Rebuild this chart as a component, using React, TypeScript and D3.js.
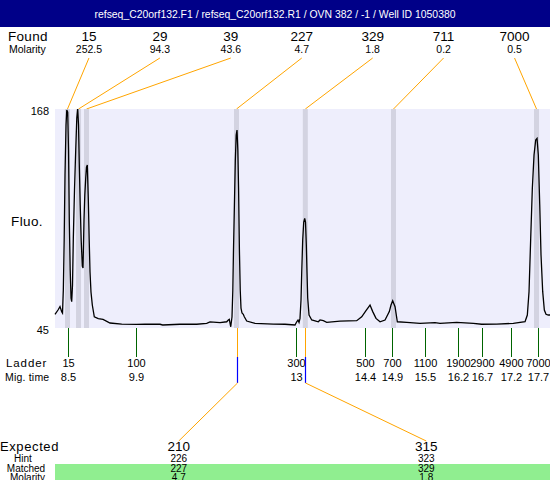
import React from "react";
import * as d3 from "d3";

const titleText = "refseq_C20orf132.F1 / refseq_C20orf132.R1 / OVN 382 / -1 / Well ID 1050380";

const foundSizes = [15, 29, 39, 227, 329, 711, 7000];
const foundMolarity = [252.5, 94.3, 43.6, 4.7, 1.8, 0.2, 0.5];
const foundTimes = [8.529, 8.745, 8.901, 11.84, 13.188, 14.916, 17.718];

const ladderSizes = [15, 100, 300, 500, 700, 1100, 1900, 2900, 4900, 7000];
const ladderTimes = [8.533, 9.877, 13.0, 14.364, 14.893, 15.539, 16.186, 16.656, 17.212, 17.741];

const expectedSizes = [210, 315];
const hintSizes = [226, 323];
const matchedSizes = [227, 329];
const matchedMolarity = [4.7, 1.8];
const matchedTimes = [11.84, 13.188];

const fluoRange = [45, 168];
const timeRange = [8.284, 17.982];

const traceTimes = [
  8.284, 8.343, 8.382, 8.415, 8.431, 8.447, 8.464, 8.48, 8.5, 8.515,
  8.533, 8.549, 8.564, 8.582, 8.598, 8.611, 8.627, 8.643, 8.666, 8.69,
  8.711, 8.729, 8.745, 8.76, 8.778, 8.797, 8.819, 8.833, 8.852, 8.868,
  8.886, 8.901, 8.917, 8.937, 8.954, 8.97, 8.989, 9.015, 9.054, 9.132,
  9.225, 9.362, 9.591, 9.885, 10.047, 10.341, 10.394, 10.733, 11.06, 11.256,
  11.321, 11.517, 11.648, 11.68, 11.699, 11.727, 11.752, 11.768, 11.781, 11.799,
  11.817, 11.834, 11.85, 11.866, 11.881, 11.897, 11.913, 11.928, 11.948, 11.973,
  11.993, 12.04, 12.203, 12.561, 12.79, 12.986, 13.02, 13.045, 13.065, 13.084,
  13.104, 13.118, 13.137, 13.157, 13.176, 13.192, 13.208, 13.221, 13.235, 13.261,
  13.314, 13.443, 13.476, 13.541, 13.607, 13.868, 14.195, 14.293, 14.377, 14.456,
  14.509, 14.573, 14.652, 14.75, 14.834, 14.867, 14.9, 14.946, 14.991, 15.175,
  15.435, 15.729, 15.827, 16.154, 16.48, 16.644, 16.938, 17.263, 17.493, 17.538,
  17.571, 17.604, 17.636, 17.669, 17.702, 17.728, 17.753, 17.781, 17.806, 17.839,
  17.871, 17.904, 17.949, 17.982,
];
const traceFluo = [
  52.7, 55.1, 57.0, 54.2, 53.4, 66.3, 94.4, 130.9, 159.0, 167.4,
  166.3, 145.0, 105.7, 77.6, 61.8, 59.8, 69.2, 95.5, 122.5, 145.0,
  162.9, 168.0, 159.0, 136.5, 114.1, 94.4, 79.8, 78.7, 105.7, 119.7,
  129.2, 135.4, 136.5, 116.9, 94.4, 76.5, 65.2, 57.9, 51.3, 50.3,
  49.8, 47.8, 47.2, 47.0, 47.2, 47.1, 46.7, 47.1, 47.1, 47.6,
  48.4, 48.0, 48.5, 49.5, 49.9, 45.7, 51.3, 66.3, 88.8, 114.1,
  139.4, 153.4, 156.2, 145.0, 122.5, 88.8, 66.3, 56.2, 53.4, 52.7,
  51.3, 48.9, 47.6, 47.2, 47.1, 46.7, 48.5, 49.5, 48.1, 50.4,
  60.7, 76.5, 94.4, 104.5, 106.6, 104.5, 91.6, 76.5, 61.8, 52.3,
  49.5, 48.5, 49.5, 49.1, 48.2, 48.9, 49.1, 51.3, 54.7, 57.9,
  54.2, 50.4, 48.5, 49.5, 54.2, 57.9, 60.3, 57.0, 48.5, 48.2,
  47.6, 48.0, 47.6, 48.2, 47.6, 47.1, 47.2, 47.6, 48.5, 52.3,
  65.4, 95.4, 123.5, 142.2, 150.6, 151.5, 142.2, 114.1, 86.0, 65.4,
  55.1, 52.7, 52.3, 52.3,
];

const FONT = "'Liberation Sans', Arial, Helvetica, sans-serif";

export default function App() {
  const W = 550;
  const H = 480;
  const left = 55;
  const right = 550;
  const top = 109;
  const bottom = 328;

  const x = d3.scaleLinear().domain(timeRange).range([left, right]);
  const y = d3.scaleLinear().domain(fluoRange).range([bottom, top]);
  const foundBand = d3
    .scaleBand<number>()
    .domain(d3.range(foundSizes.length))
    .range([53.5, 550]);
  const expBand = d3
    .scaleBand<number>()
    .domain(d3.range(expectedSizes.length))
    .range([left, right]);
  const fmtTime = d3.format(".1~f");
  const fmtMol = d3.format(".1f");

  const line = d3
    .line<number>()
    .x((_, i) => x(traceTimes[i]))
    .y((d) => y(d));

  const bandW = 5;
  const smallFs = 10;

  return (
    <svg
      width={W}
      height={H}
      style={{ position: "absolute", left: 0, top: 0, display: "block" }}
      fontFamily={FONT}
    >
      <rect x={0} y={0} width={W} height={H} fill="#ffffff" />
      {/* title */}
      <rect x={0} y={0} width={W} height={27} fill="#000088" />
      <text
        x={275}
        y={14}
        fill="#ffffff"
        fontSize={11}
        textAnchor="middle"
        dominantBaseline="central"
        textLength={361}
        lengthAdjust="spacingAndGlyphs"
      >
        {titleText}
      </text>

      {/* Found / Molarity header */}
      <text x={8} y={36} fontSize={13.5} dominantBaseline="central" letterSpacing={0.3}>
        Found
      </text>
      <text x={9} y={49} fontSize={10.5} dominantBaseline="central">
        Molarity
      </text>
      {foundSizes.map((s, i) => {
        const cx = (foundBand(i) as number) + foundBand.bandwidth() / 2;
        return (
          <g key={"f" + i}>
            <text x={cx} y={36} fontSize={13.5} textAnchor="middle" dominantBaseline="central">
              {s}
            </text>
            <text x={cx} y={49} fontSize={10.5} textAnchor="middle" dominantBaseline="central">
              {fmtMol(foundMolarity[i])}
            </text>
            <line
              x1={cx}
              y1={58}
              x2={x(foundTimes[i])}
              y2={top}
              stroke="#ffa500"
              strokeWidth={1}
            />
          </g>
        );
      })}

      {/* plot area */}
      <rect x={left} y={top} width={right - left} height={bottom - top} fill="#eeeefc" />
      {foundTimes.map((t, i) => (
        <rect
          key={"b" + i}
          x={x(t) - bandW / 2}
          y={top}
          width={bandW}
          height={bottom - top}
          fill="#d3d3e1"
        />
      ))}
      <path
        d={line(traceFluo) || ""}
        fill="none"
        stroke="#000000"
        strokeWidth={1.3}
        strokeLinejoin="miter"
      />

      {/* y labels */}
      <text x={49} y={y(fluoRange[1]) + 1.5} fontSize={11} textAnchor="end" dominantBaseline="central">
        {fluoRange[1]}
      </text>
      <text x={49} y={y(fluoRange[0]) + 2} fontSize={11} textAnchor="end" dominantBaseline="central">
        {fluoRange[0]}
      </text>
      <text x={11} y={221} fontSize={13.5} dominantBaseline="central" letterSpacing={0.4}>
        Fluo.
      </text>

      {/* ladder */}
      <text x={6} y={363} fontSize={11.5} dominantBaseline="central" letterSpacing={0.9}>
        Ladder
      </text>
      <text x={5} y={377} fontSize={10.5} dominantBaseline="central" letterSpacing={0.2}>
        Mig. time
      </text>
      {ladderSizes.map((s, i) => {
        const lx = Math.round(x(ladderTimes[i])) + 0.5;
        return (
          <g key={"l" + i}>
            <line x1={lx} y1={bottom} x2={lx} y2={357} stroke="#006400" strokeWidth={1} />
            <text x={lx} y={363} fontSize={11} textAnchor="middle" dominantBaseline="central">
              {s}
            </text>
            <text x={lx} y={377} fontSize={11} textAnchor="middle" dominantBaseline="central">
              {fmtTime(ladderTimes[i])}
            </text>
          </g>
        );
      })}

      {/* matched connectors */}
      {matchedTimes.map((t, i) => {
        const mx = Math.round(x(t)) + 0.5;
        const ex = (expBand(i) as number) + expBand.bandwidth() / 2;
        return (
          <g key={"m" + i}>
            <line x1={mx} y1={bottom} x2={mx} y2={357} stroke="#ffa500" strokeWidth={1} />
            <line x1={mx} y1={357} x2={mx} y2={383} stroke="#0000ff" strokeWidth={1.2} />
            <line x1={mx} y1={383} x2={ex} y2={441} stroke="#ffa500" strokeWidth={1} />
          </g>
        );
      })}

      {/* expected table */}
      <rect x={left} y={464} width={right - left} height={H - 464} fill="#90ee90" />
      <text x={0} y={446.5} fontSize={13} dominantBaseline="central" letterSpacing={0.6}>
        Expected
      </text>
      <text x={23} y={458.5} fontSize={smallFs} textAnchor="middle" dominantBaseline="central">
        Hint
      </text>
      <text x={26} y={468.5} fontSize={smallFs} textAnchor="middle" dominantBaseline="central">
        Matched
      </text>
      <text x={27.5} y={477.5} fontSize={smallFs} textAnchor="middle" dominantBaseline="central">
        Molarity
      </text>
      {expectedSizes.map((s, i) => {
        const ex = (expBand(i) as number) + expBand.bandwidth() / 2;
        return (
          <g key={"e" + i}>
            <text x={ex} y={446.5} fontSize={13.5} textAnchor="middle" dominantBaseline="central">
              {s}
            </text>
            <text x={ex} y={458.5} fontSize={smallFs} textAnchor="middle" dominantBaseline="central">
              {hintSizes[i]}
            </text>
            <text x={ex} y={468.5} fontSize={smallFs} textAnchor="middle" dominantBaseline="central">
              {matchedSizes[i]}
            </text>
            <text x={ex} y={477.5} fontSize={smallFs} textAnchor="middle" dominantBaseline="central">
              {fmtMol(matchedMolarity[i])}
            </text>
          </g>
        );
      })}
    </svg>
  );
}
